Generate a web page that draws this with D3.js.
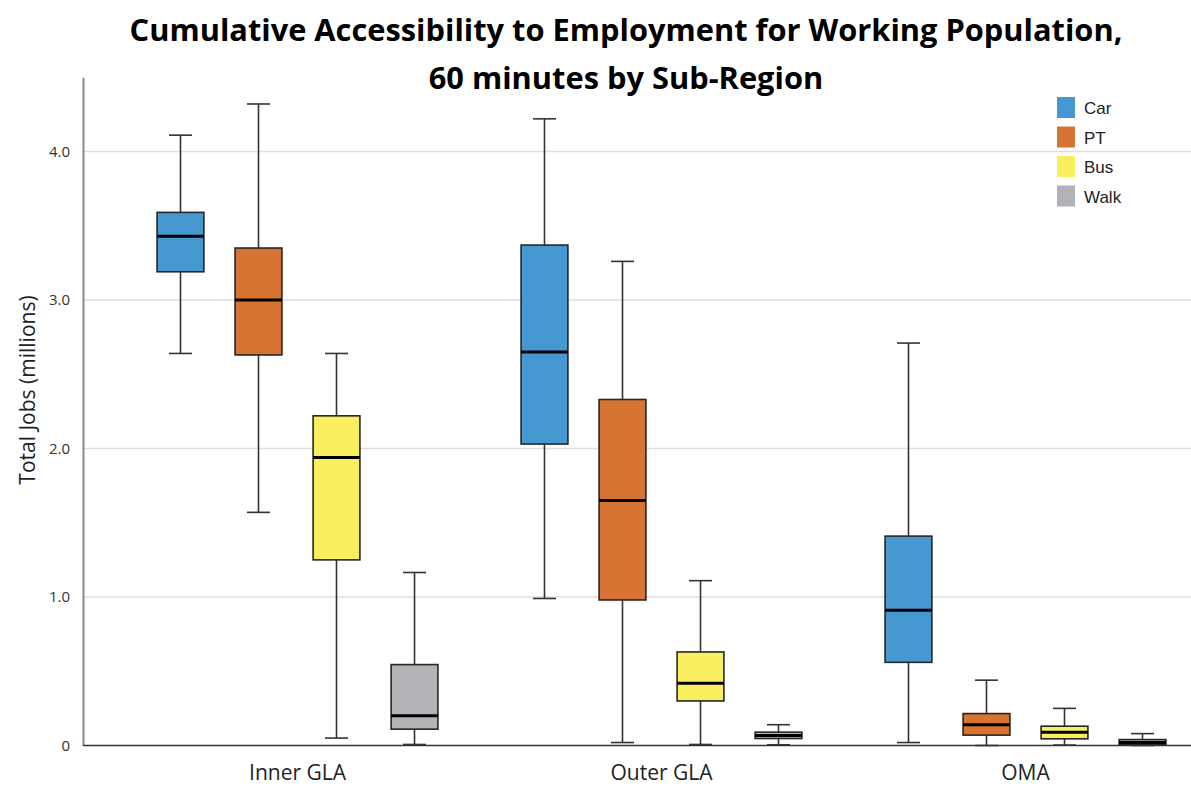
<!DOCTYPE html>
<html>
<head>
<meta charset="utf-8">
<script src="https://cdn.jsdelivr.net/npm/d3@7"></script>
<style>
  html, body { margin: 0; padding: 0; background: #fff; }
  svg { display: block; }
</style>
</head>
<body>
<svg id="chart" width="1191" height="787"></svg>
<script>
// Sub-regions along the x axis and travel modes within each one
const regions = ["Inner GLA", "Outer GLA", "OMA"];
const modes = ["Car", "PT", "Bus", "Walk"];
const modeColors = ["#4699d0", "#d77433", "#f9ee5e", "#b2b3b7"];

// Five-number summaries per region (millions of jobs): [min, q1, median, q3, max]
const carStats  = [[2.64, 3.19, 3.43, 3.59, 4.11], [0.99, 2.03, 2.65, 3.37, 4.22], [0.02, 0.56, 0.91, 1.41, 2.71]];
const ptStats   = [[1.57, 2.63, 3.00, 3.35, 4.32], [0.02, 0.98, 1.65, 2.33, 3.26], [0.00, 0.07, 0.14, 0.215, 0.44]];
const busStats  = [[0.05, 1.25, 1.94, 2.22, 2.64], [0.007, 0.30, 0.42, 0.63, 1.11], [0.003, 0.045, 0.09, 0.13, 0.25]];
const walkStats = [[0.007, 0.11, 0.20, 0.545, 1.165], [0.005, 0.047, 0.067, 0.09, 0.14], [0.00, 0.005, 0.02, 0.04, 0.08]];

const yTicks = [0, 1, 2, 3, 4];
const titleLines = ["Cumulative Accessibility to Employment for Working Population,", "60 minutes by Sub-Region"];
const yLabel = "Total Jobs (millions)";

const statsByMode = { Car: carStats, PT: ptStats, Bus: busStats, Walk: walkStats };

const W = 1191, H = 787;
const svg = d3.select("#chart");
svg.append("rect").attr("width", W).attr("height", H).attr("fill", "#fff");

const axisX = 83, plotRight = 1191;
const y = d3.scaleLinear().domain([0, 4.5]).range([745.5, 77.25]);
const xRegion = d3.scaleBand().domain(regions).range([115.5, 1207.5]).padding(0);
const xMode = d3.scaleBand().domain(modes).range([0, xRegion.bandwidth()])
  .paddingInner(0.4).paddingOuter(0.533);
const color = d3.scaleOrdinal().domain(modes).range(modeColors);

// Horizontal gridlines
svg.append("g").selectAll("line").data(yTicks.filter(d => d > 0)).join("line")
  .attr("x1", axisX).attr("x2", plotRight)
  .attr("y1", d => y(d)).attr("y2", d => y(d))
  .attr("stroke", "#dedede").attr("stroke-width", 1.5);

// Y axis with tick labels
const yAxis = d3.axisLeft(y).tickValues(yTicks).tickSize(0).tickPadding(13)
  .tickFormat(d => d === 0 ? "0" : d3.format(".1f")(d));
const gy = svg.append("g").attr("transform", `translate(${axisX},0)`).call(yAxis);
gy.select(".domain").attr("stroke", "#8a8a8a").attr("stroke-width", 2);
gy.selectAll("text").attr("font-family", "'Open Sans', sans-serif").attr("font-size", 15)
  .attr("fill", "#333");

// Box plots
const boxes = [];
regions.forEach((r, i) => modes.forEach(m => {
  const s = statsByMode[m][i];
  boxes.push({ region: r, mode: m, min: s[0], q1: s[1], med: s[2], q3: s[3], max: s[4] });
}));

const bw = xMode.bandwidth();
const capW = 23;
const g = svg.append("g").selectAll("g").data(boxes).join("g")
  .attr("transform", d => `translate(${xRegion(d.region) + xMode(d.mode) + bw / 2},0)`);

g.append("line").attr("x1", 0).attr("x2", 0)
  .attr("y1", d => y(d.max)).attr("y2", d => y(d.q3))
  .attr("stroke", "#333").attr("stroke-width", 1.6);
g.append("line").attr("x1", 0).attr("x2", 0)
  .attr("y1", d => y(d.q1)).attr("y2", d => y(d.min))
  .attr("stroke", "#333").attr("stroke-width", 1.6);
g.append("line").attr("x1", -capW / 2).attr("x2", capW / 2)
  .attr("y1", d => y(d.max)).attr("y2", d => y(d.max))
  .attr("stroke", "#333").attr("stroke-width", 1.6);
g.append("line").attr("x1", -capW / 2).attr("x2", capW / 2)
  .attr("y1", d => y(d.min)).attr("y2", d => y(d.min))
  .attr("stroke", "#333").attr("stroke-width", 1.6);
g.append("rect").attr("x", -bw / 2).attr("width", bw)
  .attr("y", d => y(d.q3)).attr("height", d => y(d.q1) - y(d.q3))
  .attr("fill", d => color(d.mode)).attr("stroke", "#262626").attr("stroke-width", 1.6);
g.append("line").attr("x1", -bw / 2).attr("x2", bw / 2)
  .attr("y1", d => y(d.med)).attr("y2", d => y(d.med))
  .attr("stroke", "#000").attr("stroke-width", 3);

// X axis baseline
svg.append("line").attr("x1", axisX).attr("x2", plotRight)
  .attr("y1", y(0)).attr("y2", y(0))
  .attr("stroke", "#333").attr("stroke-width", 1.6);

// Region labels
svg.append("g").selectAll("text").data(regions).join("text")
  .attr("x", d => xRegion(d) + xRegion.bandwidth() / 2)
  .attr("y", 780)
  .attr("text-anchor", "middle")
  .attr("font-family", "'Open Sans', sans-serif")
  .attr("font-size", 21)
  .attr("fill", "#222")
  .text(d => d);

// Y axis title
svg.append("text")
  .attr("transform", "translate(35,390) rotate(-90)")
  .attr("text-anchor", "middle")
  .attr("font-family", "'Open Sans', sans-serif")
  .attr("font-size", 21)
  .attr("fill", "#222")
  .text(yLabel);

// Title
svg.append("g").selectAll("text").data(titleLines).join("text")
  .attr("x", 626)
  .attr("y", (d, i) => 41 + i * 48)
  .attr("text-anchor", "middle")
  .attr("font-family", "'Open Sans', sans-serif")
  .attr("font-weight", "bold")
  .attr("font-size", 30.8)
  .attr("fill", "#000")
  .text(d => d);

// Legend
const legend = svg.append("g").selectAll("g").data(modes).join("g")
  .attr("transform", (d, i) => `translate(1057,${97 + i * 29.5})`);
legend.append("rect").attr("width", 18).attr("height", 21)
  .attr("fill", d => color(d));
legend.append("text").attr("x", 27).attr("y", 17)
  .attr("font-family", "'Liberation Sans', Arial, sans-serif")
  .attr("font-size", 17)
  .attr("fill", "#222")
  .text(d => d);
</script>
</body>
</html>
